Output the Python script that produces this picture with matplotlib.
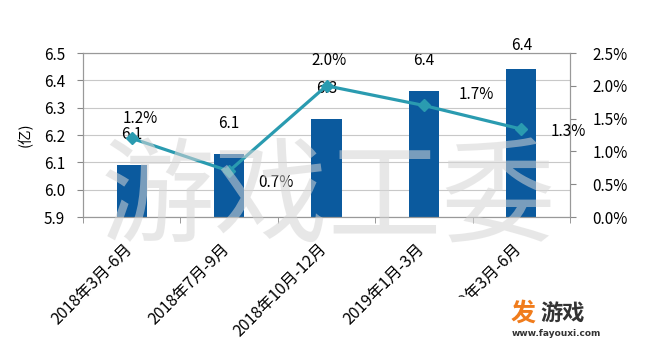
import matplotlib.pyplot as plt
import matplotlib.transforms as mtransforms
import numpy as np

plt.rcParams['font.family'] = ['Noto Sans CJK SC', 'DejaVu Sans']

periods = ['2018年3月-6月', '2018年7月-9月', '2018年10月-12月', '2019年1月-3月', '2019年3月-6月']
revenue = [6.09, 6.13, 6.26, 6.36, 6.44]      # 亿
growth = [1.2, 0.7, 2.0, 1.7, 1.34]           # %

bar_color = '#0b5a9e'
line_color = '#2a9bb0'
grid_color = '#c8c8c8'

fig = plt.figure(figsize=(6.5, 3.47), dpi=100)
ax = fig.add_axes([83 / 650, 1 - 217 / 347, 487 / 650, 164 / 347])
x = np.arange(len(periods))

ax.bar(x, [v - 5.9 for v in revenue], bottom=5.9, width=0.31, color=bar_color, zorder=2)
ax.set_ylim(5.9, 6.5)
ax.set_xlim(-0.5, len(periods) - 0.5)
ax.set_yticks(np.arange(5.9, 6.51, 0.1))
ax.set_yticklabels([f'{t:.1f}' for t in np.arange(5.9, 6.51, 0.1)], fontsize=11)
ax.yaxis.grid(True, color=grid_color, lw=0.8, zorder=0)
ax.set_ylabel('(亿)', fontsize=10.5, labelpad=8)

ax.set_xticks(x)
ax.set_xticklabels(periods, rotation=45, ha='right', rotation_mode='anchor', fontsize=11.5)
ax.tick_params(axis='x', length=0, pad=6)
# push the slanted labels down and slightly left of their category
shift = mtransforms.ScaledTranslation(-8 / 100, -15 / 100, fig.dpi_scale_trans)
for lbl in ax.get_xticklabels():
    lbl.set_transform(lbl.get_transform() + shift)
ax.set_xticks(np.arange(-0.5, len(periods)), minor=True)
ax.tick_params(axis='x', which='minor', length=4, color='#888888')
ax.tick_params(axis='y', length=4, color='#888888', pad=9)

for sp in ax.spines.values():
    sp.set_color('#999999')
    sp.set_linewidth(0.8)

label_lift = [22, 22, 22, 22, 17]
for xi, v, lift in zip(x, revenue, label_lift):
    ax.annotate(f'{v:.1f}', (xi, v), xytext=(0, lift), textcoords='offset points',
                ha='center', va='center', fontsize=11, zorder=5)

ax2 = ax.twinx()
ax2.plot(x, growth, color=line_color, lw=2.3, marker='D', markersize=6, zorder=3)
ax2.set_ylim(0, 2.5)
ax2.set_yticks(np.arange(0, 2.51, 0.5))
ax2.set_yticklabels([f'{t:.1f}%' for t in np.arange(0, 2.51, 0.5)], fontsize=11)
ax2.tick_params(axis='y', length=4, color='#888888', pad=12)
for sp in ax2.spines.values():
    sp.set_color('#999999')
    sp.set_linewidth(0.8)

# label offsets for the growth rate points (points)
offsets = [(6, 14), (34, -8), (2, 18), (38, 8), (34, -2)]
for xi, g, off in zip(x, growth, offsets):
    ax2.annotate(f'{g:.1f}%', (xi, g), xytext=off, textcoords='offset points',
                 ha='center', va='center', fontsize=11, zorder=5)

# big translucent watermark across the plot
fig.text(0.505, 1 - 200 / 347, '游戏工委', fontsize=82, color='#d5d5d5', alpha=0.55,
         ha='center', va='center', zorder=10)

# site logo in the lower right corner, on a white block
fig.patches.append(plt.Rectangle((436 / 650, 0.0), 214 / 650, 50 / 347,
                                 transform=fig.transFigure, color='white', zorder=11))
fig.text(511 / 650, 1 - 314 / 347, '发', fontsize=18, color='#f07c1c', weight='bold',
         ha='left', va='center', zorder=12)
fig.text(540 / 650, 1 - 314 / 347, '游戏', fontsize=16, color='#333333', weight='bold',
         ha='left', va='center', zorder=12)
fig.text(512 / 650, 1 - 334 / 347, 'www.fayouxi.com', fontsize=6.5, color='#333333',
         weight='bold', ha='left', va='center', family='DejaVu Sans', zorder=12)

fig.savefig('out.png', dpi=100)
